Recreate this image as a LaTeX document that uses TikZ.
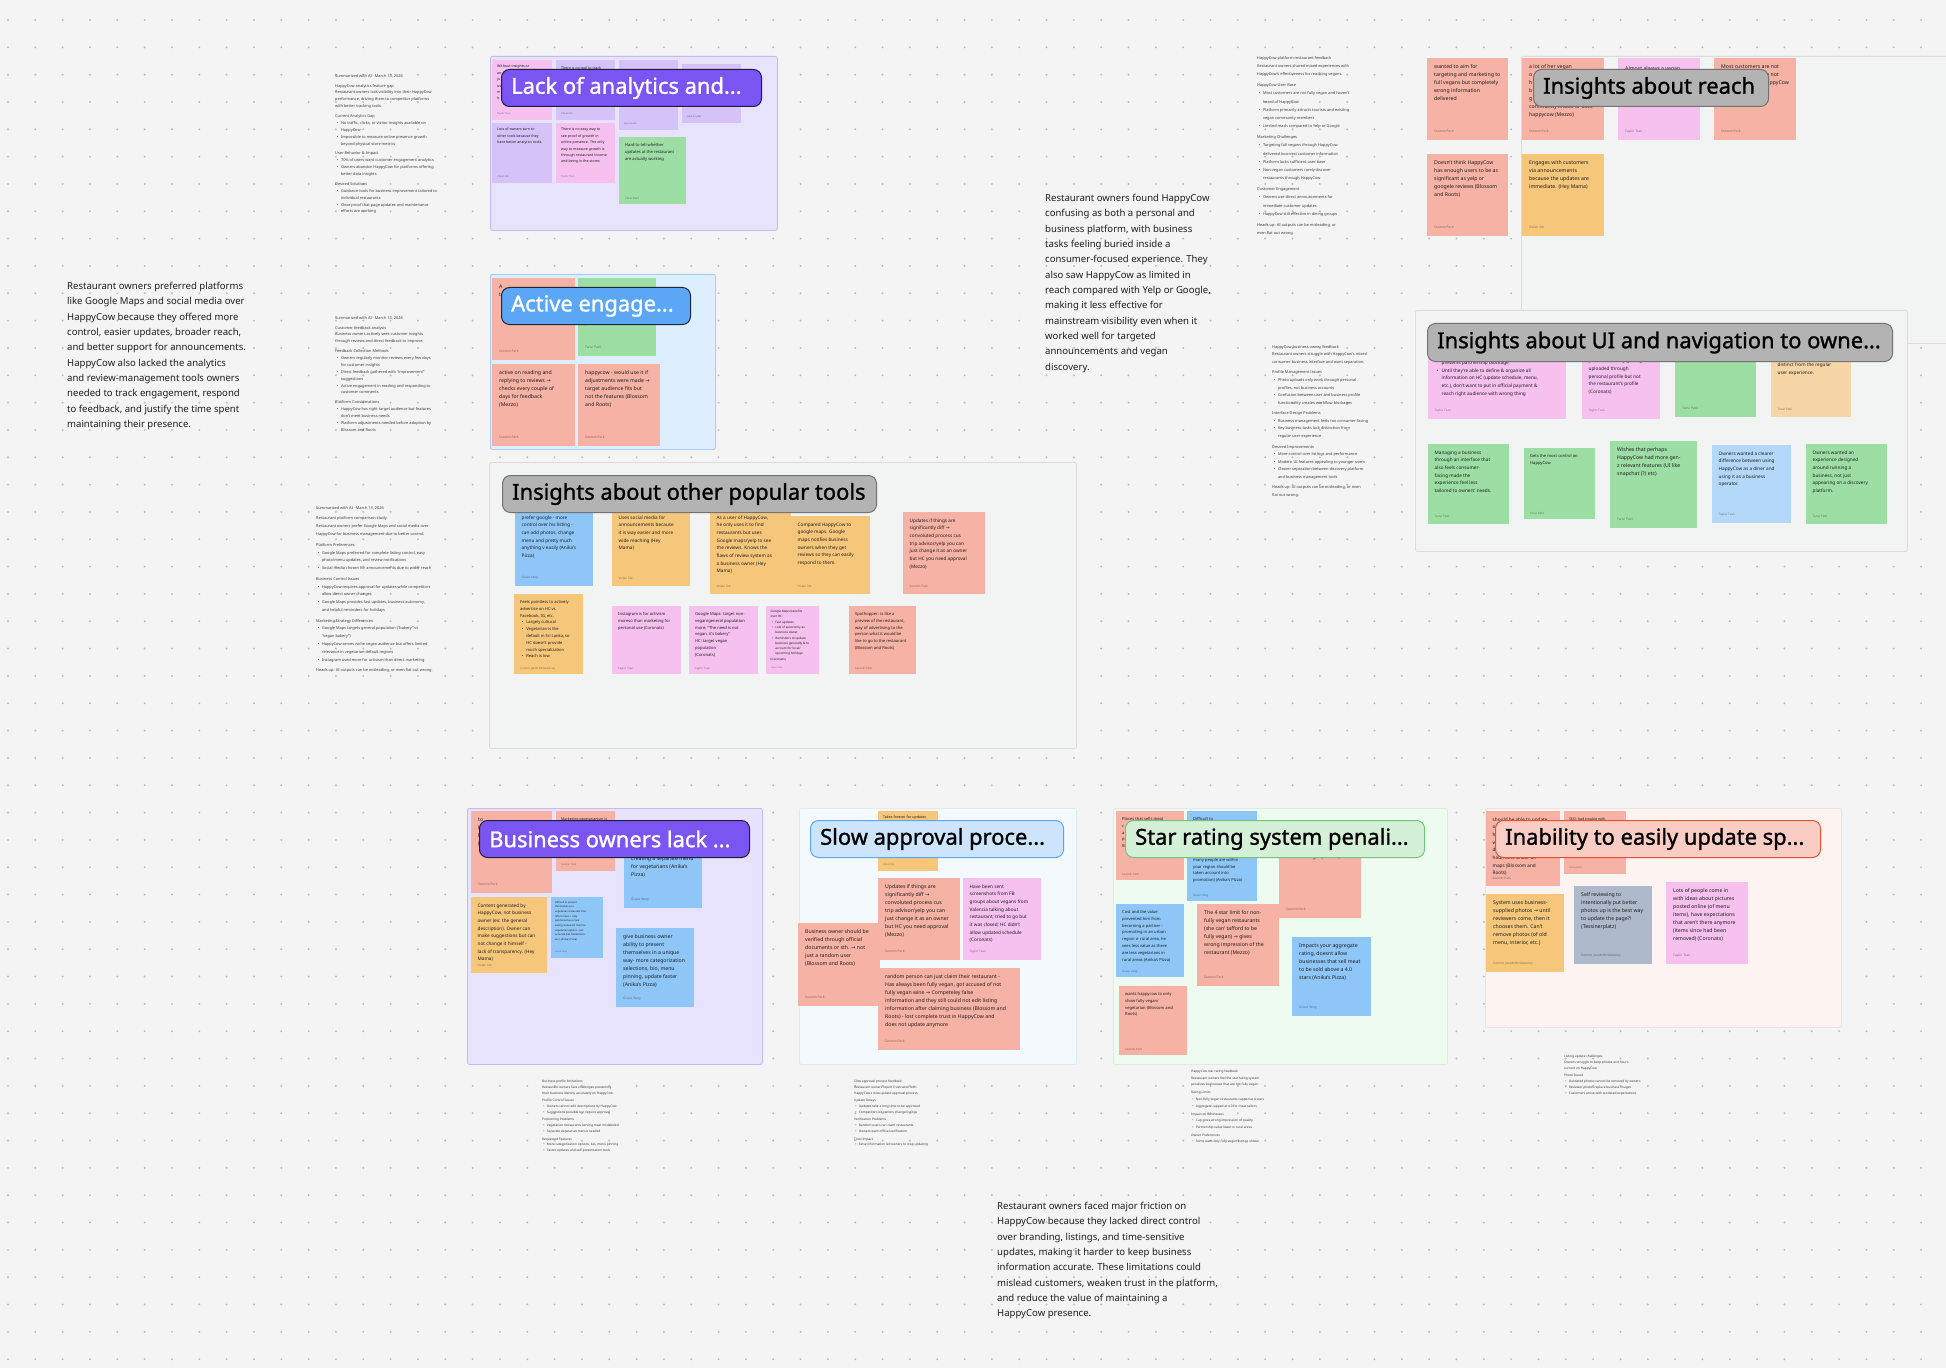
\documentclass[tikz,border=0pt]{standalone}
\usepackage{fontspec}
\setmainfont{Noto Sans}
\newfontfamily\symf{DejaVu Sans}
\newfontfamily\hdrf[FakeBold=1.2]{Noto Sans}

\definecolor{Canvas}  {HTML}{F4F4F4}
\definecolor{GridDot} {HTML}{BDBDBD}
\definecolor{Ink}     {HTML}{1E1E1E}
\definecolor{SumInk}  {HTML}{3C3C3C}
%% sticky colours
\definecolor{NtSal}{HTML}{F6B2A4}
\definecolor{NtPnk}{HTML}{F6C1EF}
\definecolor{NtPur}{HTML}{D4C2F8}
\definecolor{NtGrn}{HTML}{9DDEA5}
\definecolor{NtBlu}{HTML}{8EC6F8}
\definecolor{NtOra}{HTML}{F6C77B}
\definecolor{NtPch}{HTML}{F6D5A7}
\definecolor{NtLbl}{HTML}{B4D8FA}
\definecolor{NtSlt}{HTML}{AEB9CB}
%% section frames
\definecolor{FrPurF}{HTML}{E8E3FD}\definecolor{FrPurL}{HTML}{C7B9F4}
\definecolor{FrBluF}{HTML}{DDEEFE}\definecolor{FrBluL}{HTML}{A6CDF4}
\definecolor{FrGryF}{HTML}{F2F3F3}\definecolor{FrGryL}{HTML}{DCDCDC}
\definecolor{FrSkyF}{HTML}{F4F9FE}\definecolor{FrSkyL}{HTML}{E0EAF3}
\definecolor{FrMntF}{HTML}{EDFBF0}\definecolor{FrMntL}{HTML}{D9EEDD}
\definecolor{FrRosF}{HTML}{FDF4F2}\definecolor{FrRosL}{HTML}{F1E2DE}
%% section titles
\definecolor{LbPurF}{HTML}{7A55F2}\definecolor{LbPurL}{HTML}{1E1E3C}
\definecolor{LbBluF}{HTML}{5BA7F6}\definecolor{LbBluL}{HTML}{1E2A3C}
\definecolor{LbGryF}{HTML}{B3B3B3}\definecolor{LbGryL}{HTML}{737373}
\definecolor{LbSkyF}{HTML}{CDE5FC}\definecolor{LbSkyL}{HTML}{5AA7F5}
\definecolor{LbMntF}{HTML}{D4F0D6}\definecolor{LbMntL}{HTML}{74C47C}
\definecolor{LbRosF}{HTML}{F9CCC4}\definecolor{LbRosL}{HTML}{E5532E}

\tikzset{
  gdot/.style={fill=GridDot},
  frame/.style={rectangle, anchor=north west, inner sep=0pt,
    rounded corners=2bp, line width=0.8bp},
  fr_pur/.style={frame, fill=FrPurF, draw=FrPurL},
  fr_blu/.style={frame, fill=FrBluF, draw=FrBluL},
  fr_gry/.style={frame, fill=FrGryF, draw=FrGryL},
  fr_sky/.style={frame, fill=FrSkyF, draw=FrSkyL},
  fr_mnt/.style={frame, fill=FrMntF, draw=FrMntL},
  fr_ros/.style={frame, fill=FrRosF, draw=FrRosL},
  note/.style={rectangle, anchor=north west, inner sep=0pt},
  txbase/.style={anchor=north west, align=left, inner sep=0pt, text=Ink,
    execute at begin node=\strut},
  aubase/.style={anchor=west, inner sep=0pt, text=black, text opacity=0.42},
  txl/.style={txbase, font=\fontsize{5.2}{8}\selectfont, xshift=7bp, yshift=-6.8bp},
  txm/.style={txbase, font=\fontsize{4.7}{7.7}\selectfont, xshift=6.5bp, yshift=-6.4bp},
  txs/.style={txbase, font=\fontsize{4.1}{6.8}\selectfont, xshift=6bp, yshift=-6.3bp},
  txxs/.style={txbase, font=\fontsize{3.6}{6.4}\selectfont, xshift=5bp, yshift=-5bp},
  txt/.style={txbase, font=\fontsize{3.1}{5.3}\selectfont, xshift=4.5bp, yshift=-4.1bp},
  txu/.style={txbase, font=\fontsize{2.5}{4.7}\selectfont, xshift=4bp, yshift=-3.9bp},
  txlau/.style={aubase, font=\fontsize{3.3}{4}\selectfont, xshift=7bp, yshift=9bp},
  txmau/.style={aubase, font=\fontsize{3.1}{4}\selectfont, xshift=6.5bp, yshift=8.5bp},
  txsau/.style={aubase, font=\fontsize{2.9}{4}\selectfont, xshift=6bp, yshift=6bp},
  txxsau/.style={aubase, font=\fontsize{2.6}{3}\selectfont, xshift=5bp, yshift=7bp},
  txtau/.style={aubase, font=\fontsize{2.3}{3}\selectfont, xshift=4.5bp, yshift=6.5bp},
  txuau/.style={aubase, font=\fontsize{2.2}{3}\selectfont, xshift=4bp, yshift=6bp},
  hdr/.style={rectangle, anchor=north west, inner sep=0pt,
    rounded corners=8bp, line width=1bp},
  hdr_pur/.style={hdr, fill=LbPurF, draw=LbPurL},
  hdr_blu/.style={hdr, fill=LbBluF, draw=LbBluL},
  hdr_gry/.style={hdr, fill=LbGryF, draw=LbGryL},
  hdr_sky/.style={hdr, fill=LbSkyF, draw=LbSkyL},
  hdr_mnt/.style={hdr, fill=LbMntF, draw=LbMntL},
  hdr_ros/.style={hdr, fill=LbRosF, draw=LbRosL},
  hdrtxt/.style={anchor=west, inner sep=0pt, xshift=10bp,
    font=\hdrf\fontsize{22}{25}\selectfont},
  para/.style={anchor=north west, align=left, inner sep=0pt, text=Ink,
    font=\fontsize{9.6}{15.4}\selectfont, execute at begin node=\strut},
  aisum/.style={anchor=north west, align=left, inner sep=0pt, text=SumInk,
    font=\fontsize{3.9}{6.9}\selectfont},
  aisumsm/.style={aisum, font=\fontsize{3.2}{5.9}\selectfont},
}

\newcommand{\arw}{{\symf →}}
\newcommand{\bul}{\hspace*{0.4em}\makebox[1.1em][l]{\textbullet}}
\newcommand{\bulc}{\hspace*{1.5em}}
\newcommand{\sh}[1]{\textbf{#1}}
%% name, colour, x, y, w, h, text style, text, author
\newcommand{\sticky}[9]{%
  \node[note, fill=#2, minimum width=#5bp, minimum height=#6bp] (#1) at (#3,#4) {};
  \node[#7] (#1-t) at (#1.north west) {#8};
  \node[#7au] (#1-a) at (#1.south west) {#9};
}
%% name, style, x, y, w, h
\newcommand{\frm}[6]{%
  \node[#2, minimum width=#5bp, minimum height=#6bp] (#1) at (#3,#4) {};
}
%% name, style, x, y, w, h, colour, title
\newcommand{\hdrbox}[8]{%
  \node[#2, minimum width=#5bp, minimum height=#6bp] (#1) at (#3,#4) {};
  \node[hdrtxt, text=#7] (#1-t) at (#1.west) {#8};
}

\begin{document}
\begin{tikzpicture}[x=1bp,y=-1bp]

\useasboundingbox (0,0) rectangle (1946,1368);
\fill[Canvas] (0,0) rectangle (1946,1368);
\foreach \i in {0,...,71}{
  \foreach \j in {0,...,49}{\fill[gdot] ({8+27.33*\i},{20+27.33*\j}) circle (1.1);}}

%% frames
\frm{fA}{fr_pur}{490}{56}{287}{174}
\frm{fB}{fr_blu}{490}{274}{225}{175}
\frm{fC}{fr_gry}{489}{462}{587}{286}
\frm{fD}{fr_gry}{1521}{56}{440}{287}
\frm{fE}{fr_gry}{1415}{310}{492}{241}
\frm{fF}{fr_pur}{467}{808}{295}{256}
\frm{fG}{fr_sky}{799}{808}{277}{256}
\frm{fH}{fr_mnt}{1113}{808}{334}{256}
\frm{fI}{fr_ros}{1485}{808}{356}{219}

%% free text
\node[para] (pLeft) at (67,282) {Restaurant owners preferred platforms\\like Google Maps and social media over\\HappyCow because they offered more\\control, easier updates, broader reach,\\and better support for announcements.\\HappyCow also lacked the analytics\\and review-management tools owners\\needed to track engagement, respond\\to feedback, and justify the time spent\\maintaining their presence.};
\node[para] (pMid) at (1045,194) {Restaurant owners found HappyCow\\confusing as both a personal and\\business platform, with business\\tasks feeling buried inside a\\consumer-focused experience. They\\also saw HappyCow as limited in\\reach compared with Yelp or Google,\\making it less effective for\\mainstream visibility even when it\\worked well for targeted\\announcements and vegan\\discovery.};
\node[para] (pLow) at (997,1202) {Restaurant owners faced major friction on\\HappyCow because they lacked direct control\\over branding, listings, and time-sensitive\\updates, making it harder to keep business\\information accurate. These limitations could\\mislead customers, weaken trust in the platform,\\and reduce the value of maintaining a\\HappyCow presence.};

%% AI summaries
\node[aisum] (sA) at (335,74) {Summarized with AI · March 13, 2026\\[3bp]\sh{HappyCow analytics feature gap}\\Restaurant owners lack visibility into their HappyCow\\performance, driving them to competitor platforms\\with better tracking tools.\\[3bp]\sh{Current Analytics Gap}\\\bul No traffic, clicks, or visitor insights available on\\\bulc HappyCow\\\bul Impossible to measure online presence growth\\\bulc beyond physical store metrics\\[3bp]\sh{User Behavior \& Impact}\\\bul 70\% of users want customer engagement analytics\\\bul Owners abandon HappyCow for platforms offering\\\bulc better data insights\\[3bp]\sh{Desired Solutions}\\\bul Guidance tools for business improvement tailored to\\\bulc individual restaurants\\\bul Clear proof that page updates and maintenance\\\bulc efforts are working};
\node[aisum] (sB) at (335,316) {Summarized with AI · March 13, 2026\\[3bp]\sh{Customer feedback analysis}\\Business owners actively seek customer insights\\through reviews and direct feedback to improve.\\[3bp]\sh{Feedback Collection Methods}\\\bul Owners regularly monitor reviews every few days\\\bulc for customer insights\\\bul Direct feedback gathered with ``improvement''\\\bulc suggestions\\\bul Active engagement in reading and responding to\\\bulc customer comments\\[3bp]\sh{Platform Considerations}\\\bul HappyCow has right target audience but features\\\bulc don't meet business needs\\\bul Platform adjustments needed before adoption by\\\bulc Blossom and Roots};
\node[aisum, font=\fontsize{3.9}{7.8}\selectfont] (sC) at (316,506) {Summarized with AI · March 13, 2026\\[3bp]\sh{Restaurant platform comparison study}\\Restaurant owners prefer Google Maps and social media over\\HappyCow for business management due to better control.\\[3bp]\sh{Platform Preferences}\\\bul Google Maps preferred for complete listing control, easy\\\bulc photo/menu updates, and review notifications\\\bul Social media chosen for announcements due to wider reach\\[3bp]\sh{Business Control Issues}\\\bul HappyCow requires approval for updates while competitors\\\bulc allow direct owner changes\\\bul Google Maps provides fast updates, business autonomy,\\\bulc and helpful reminders for holidays\\[3bp]\sh{Marketing Strategy Differences}\\\bul Google Maps targets general population (``bakery'' vs\\\bulc ``vegan bakery'')\\\bul HappyCow serves niche vegan audience but offers limited\\\bulc relevance in vegetarian-default regions\\\bul Instagram used more for activism than direct marketing\\[3bp]Heads up: AI outputs can be misleading, or even flat out wrong.};
\node[aisum, font=\fontsize{3.9}{8.2}\selectfont] (sD) at (1257,56) {\sh{HappyCow platform restaurant feedback}\\Restaurant owners shared mixed experiences with\\HappyCow's effectiveness for reaching vegans.\\[3bp]\sh{HappyCow User Base}\\\bul Most customers are not fully vegan and haven't\\\bulc heard of HappyCow\\\bul Platform primarily attracts tourists and existing\\\bulc vegan community members\\\bul Limited reach compared to Yelp or Google\\[3bp]\sh{Marketing Challenges}\\\bul Targeting full vegans through HappyCow\\\bulc delivered incorrect customer information\\\bul Platform lacks sufficient user base\\\bul Non-vegan customers rarely discover\\\bulc restaurants through HappyCow\\[3bp]\sh{Customer Engagement}\\\bul Owners use direct announcements for\\\bulc immediate customer updates\\\bul HappyCow still effective in dining groups\\[3bp]Heads up: AI outputs can be misleading, or\\even flat out wrong.};
\node[aisum, font=\fontsize{3.9}{7.6}\selectfont] (sE) at (1272,345) {\sh{HappyCow business owner feedback}\\Restaurant owners struggle with HappyCow's mixed\\consumer-business interface and want separation.\\[3bp]\sh{Profile Management Issues}\\\bul Photo uploads only work through personal\\\bulc profiles, not business accounts\\\bul Confusion between user and business profile\\\bulc functionality creates workflow blockages\\[3bp]\sh{Interface Design Problems}\\\bul Business management feels too consumer-facing\\\bul Key business tasks lack distinction from\\\bulc regular user experience\\[3bp]\sh{Desired Improvements}\\\bul More control over listings and performance\\\bul Modern UI features appealing to younger users\\\bul Clearer separation between discovery platform\\\bulc and business management tools\\[3bp]Heads up: AI outputs can be misleading, or even\\flat out wrong.};
\node[aisumsm] (sF) at (542,1080) {\sh{Business profile limitations}\\Restaurant owners face challenges presenting\\their business identity accurately on HappyCow.\\[1.5bp]\sh{Profile Control Issues}\\\bul Owners cannot edit descriptions by HappyCow\\\bul Suggestions possible but require approval\\[1.5bp]\sh{Positioning Problems}\\\bul Vegetarian restaurants serving meat mislabeled\\\bul Separate vegetarian menus needed\\[1.5bp]\sh{Requested Features}\\\bul More categorization options, bio, menu pinning\\\bul Faster updates and self-presentation tools};
\node[aisumsm] (sG) at (854,1080) {\sh{Slow approval process feedback}\\Restaurant owners report frustration with\\HappyCow's slow update approval process.\\[1.5bp]\sh{Update Delays}\\\bul Updates take a long time to be approved\\\bul Competitors let owners change listings\\[1.5bp]\sh{Verification Problems}\\\bul Random users can claim restaurants\\\bul Owners want official verification\\[1.5bp]\sh{Trust Impact}\\\bul False information led owners to stop updating};
\node[aisumsm, font=\fontsize{3.2}{6.6}\selectfont] (sH) at (1191,1070) {\sh{HappyCow star rating feedback}\\Restaurant owners feel the star rating system\\penalizes businesses that are not fully vegan.\\[1.5bp]\sh{Rating Limits}\\\bul Non-fully vegan restaurants capped at 4 stars\\\bul Aggregate capped at 4.0 for meat sellers\\[1.5bp]\sh{Impact on Businesses}\\\bul Cap gives wrong impression of quality\\\bul Partnership value lower in rural areas\\[1.5bp]\sh{Owner Preferences}\\\bul Some want only fully vegan listings shown};
\node[aisumsm] (sI) at (1564,1055) {\sh{Listing update challenges}\\Owners struggle to keep photos and hours\\current on HappyCow.\\[1.5bp]\sh{Photo Issues}\\\bul Outdated photos cannot be removed by owners\\\bul Reviewer photos replace business images\\\bul Customers arrive with outdated expectations};

%% Lack of analytics
\sticky{nA1}{NtPnk}{492}{60}{60}{60}{txxs}{Without insights or\\an\\ju\\us\\m\\h}{Taylor Tsan}
\sticky{nA2}{NtPur}{556}{60}{59}{60}{txxs}{There is no tool to track}{Vivian Xie}
\sticky{nA3}{NtPur}{619}{60}{59}{70}{txxs}{}{Jess Susan}
\sticky{nA4}{NtPur}{682}{64}{59}{59}{txxs}{\mbox{}\\[32bp]audience.}{Julia Snyder}
\sticky{nA5}{NtPur}{492}{123}{60}{60}{txxs}{Lots of owners turn to\\other tools because they\\have better analytics tools.}{Vivian Xie}
\sticky{nA6}{NtPnk}{556}{123}{59}{60}{txxs}{There is no easy way to\\see proof of growth in\\online presence. The only\\way to measure growth is\\through restaurant income\\and being in the stores}{Taylor Tsan}
\sticky{nA7}{NtGrn}{619}{137}{67}{67}{txs}{Hard to tell whether\\updates at the restaurant\\are actually working}{Tanvi Patil}
\hdrbox{hA}{hdr_pur}{501}{69}{260}{37}{white}{Lack of analytics and...}

%% Active engagement
\sticky{nB1}{NtSal}{492}{278}{83}{82}{txl}{A\\t}{Seomin Park}
\sticky{nB2}{NtGrn}{578}{278}{78}{78}{txl}{\mbox{}\\[32bp]you do different?''}{Tanvi Patil}
\sticky{nB3}{NtSal}{492}{364}{83}{82}{txl}{active on reading and\\replying to reviews \arw\\checks every couple of\\days for feedback\\(Mezzo)}{Seomin Park}
\sticky{nB4}{NtSal}{578}{364}{82}{82}{txl}{happycow - would use it if\\adjustments were made \arw\\target audience fits but\\not the features (Blossom\\and Roots)}{Seomin Park}
\hdrbox{hB}{hdr_blu}{501}{287}{189}{37}{white}{Active engage...}

%% Other popular tools
\sticky{nC1}{NtBlu}{515}{509}{78}{77}{txm}{prefer google - more\\control over his listing -\\can add photos, change\\menu and pretty much\\anything v easily (Anika's\\Pizza)}{Grace Yang}
\sticky{nC2}{NtOra}{612}{509}{78}{77}{txm}{Uses social media for\\announcements because\\it is way easier and more\\wide reaching (Hey\\Mama)}{Vivian Xie}
\sticky{nC3}{NtOra}{710}{509}{81}{85}{txm}{As a user of HappyCow,\\he only uses it to find\\restaurants but uses\\Google maps/yelp to see\\the reviews. Knows the\\flaws of review system as\\a business owner (Hey\\Mama)}{Vivian Xie}
\sticky{nC4}{NtOra}{791}{516}{79}{78}{txm}{Compared HappyCow to\\google maps. Google\\maps notifies business\\owners when they get\\reviews so they can easily\\respond to them.}{Vivian Xie}
\sticky{nC5}{NtSal}{903}{512}{82}{82}{txm}{Updates if things are\\significantly diff \arw\\convoluted process cus\\trip advisor/yelp you can\\just change it as an owner\\but HC you need approval\\(Mezzo)}{Seomin Park}
\sticky{nC6}{NtOra}{514}{594}{69}{80}{txs}{Feels pointless to actively\\advertise on HC vs.\\Facebook, IG, etc.\\\bul Largely cultural\\\bul Vegetarian is the\\\bulc default in Sri Lanka, so\\\bulc HC doesn't provide\\\bulc much specialization\\\bul Reach is low}{Connor Jacob McSweeney}
\sticky{nC7}{NtPnk}{612}{606}{69}{68}{txs}{Instagram is for activism\\moreso than marketing for\\personal use (Coronats)}{Taylor Tsan}
\sticky{nC8}{NtPnk}{689}{606}{69}{68}{txs}{Google Maps: target non-\\vegan/general population\\more; ``The need is not\\vegan, it's bakery''\\HC: target vegan\\population\\(Coronats)}{Taylor Tsan}
\sticky{nC9}{NtPnk}{766}{606}{53}{68}{txt}{Google Maps benefits\\over HC:\\\bul Fast updates\\\bul Lots of autonomy as\\\bulc business owner\\\bul Reminders to update\\\bulc business generally \& to\\\bulc account for local/\\\bulc upcoming holidays\\(Coronats)}{Taylor Tsan}
\sticky{nC10}{NtSal}{849}{606}{67}{68}{txs}{Spothopper: is like a\\preview of the restaurant,\\way of advertising to the\\person what it would be\\like to go to the restaurant\\(Blossom and Roots)}{Seomin Park}
\hdrbox{hC}{hdr_gry}{502}{475}{374}{37}{black}{Insights about other popular tools}

%% Reach
\sticky{nD1}{NtSal}{1427}{58}{81}{82}{txl}{wanted to aim for\\targeting and marketing to\\full vegans but completely\\wrong information\\delivered}{Seomin Park}
\sticky{nD2}{NtSal}{1522}{58}{82}{82}{txl}{a lot of her vegan\\o\\h\\b\\g\\community knows or uses\\happycow (Mezzo)}{Seomin Park}
\sticky{nD3}{NtPnk}{1618}{58}{82}{82}{txl}{Almost always a vegan}{Taylor Tsan}
\sticky{nD4}{NtSal}{1714}{58}{82}{82}{txl}{Most customers are not\\vegan, so they have not\\heard of or used HappyCow\\(Anika's Pizza)}{Seomin Park}
\sticky{nD5}{NtSal}{1427}{154}{81}{82}{txl}{Doesn't think HappyCow\\has enough users to be as\\significant as yelp or\\googele reviews (Blossom\\and Roots)}{Seomin Park}
\sticky{nD6}{NtOra}{1522}{154}{82}{82}{txl}{Engages with customers\\via announcements\\because the updates are\\immediate. (Hey Mama)}{Vivian Xie}
\hdrbox{hD}{hdr_gry}{1533}{69}{235}{37}{black}{Insights about reach}

%% UI and navigation
\sticky{nE1}{NtPnk}{1428}{335}{138}{84}{txm}{\mbox{}\\\mbox{}\\\bul Frustrations over lack of business profile\\\bulc presents partnership blockage\\\bul Until they're able to define \& organize all\\\bulc information on HC (update schedule, menu,\\\bulc etc.), don't want to put in official payment \&\\\bulc reach right audience with wrong thing}{Taylor Tsan}
\sticky{nE2}{NtPnk}{1582}{341}{78}{78}{txm}{\mbox{}\\frustrated because\\pictures are only getting\\uploaded through\\personal profile but not\\the restaurant's profile\\(Coronats)}{Taylor Tsan}
\sticky{nE3}{NtGrn}{1675}{336}{81}{81}{txl}{}{Tanvi Patil}
\sticky{nE4}{NtPch}{1771}{337}{80}{80}{txm}{\mbox{}\\\mbox{}\\performance did not feel\\distinct from the regular\\user experience.}{Tanvi Patil}
\sticky{nE5}{NtGrn}{1428}{444}{81}{80}{txm}{Managing a business\\through an interface that\\also feels consumer-\\facing made the\\experience feel less\\tailored to owners' needs.}{Tanvi Patil}
\sticky{nE6}{NtGrn}{1524}{448}{71}{71}{txs}{Gets the most control on\\HappyCow}{Tanvi Patil}
\sticky{nE7}{NtGrn}{1610}{441}{87}{87}{txl}{Wishes that perhaps\\HappyCow had more gen-\\z relevant features (UI like\\snapchat (?) etc)}{Tanvi Patil}
\sticky{nE8}{NtLbl}{1712}{445}{79}{78}{txm}{Owners wanted a clearer\\difference between using\\HappyCow as a diner and\\using it as a business\\operator.}{Taylor Tsan}
\sticky{nE9}{NtGrn}{1806}{444}{81}{80}{txm}{Owners wanted an\\experience designed\\around running a\\business, not just\\appearing on a discovery\\platform.}{Tanvi Patil}
\hdrbox{hE}{hdr_gry}{1427}{323}{465}{38}{black}{Insights about UI and navigation to owne...}

%% Business owners lack
\sticky{nF1}{NtSal}{471}{811}{81}{82}{txl}{to\\H\\b\\(}{Seomin Park}
\sticky{nF2}{NtSal}{556}{811}{59}{60}{txxs}{Marketing vegetarianism is}{Seomin Park}
\sticky{nF3}{NtBlu}{624}{830}{78}{78}{txl}{\mbox{}\\\mbox{}\\(has been optional) \arw\\creating a separate menu\\for vegetarians (Anika's\\Pizza)}{Grace Yang}
\sticky{nF4}{NtOra}{471}{897}{76}{76}{txm}{Content generated by\\HappyCow, not business\\owner (ex: the general\\description). Owner can\\make suggestions but can\\not change it himself -\\lack of transparency. (Hey\\Mama)}{Vivian Xie}
\sticky{nF5}{NtBlu}{551}{897}{52}{61}{txu}{Difficult to present\\themselves as a\\vegetarian restaurant that\\offers meat -> only\\positioned as a meat\\eating restaurant that has\\vegetarian options - not\\accurate (like Modernista\\etc.) (Anika's Pizza)}{Grace Yang}
\sticky{nF6}{NtBlu}{616}{928}{78}{79}{txl}{give business owner\\ability to present\\themselves in a unique\\way- more categorization\\selections, bio, menu\\pinning, update faster\\(Anika's Pizza)}{Grace Yang}
\hdrbox{hF}{hdr_pur}{479}{820}{270}{37}{white}{Business owners lack ...}

%% Slow approval
\sticky{nG1}{NtOra}{878}{811}{60}{60}{txxs}{Takes forever for updates\\[32bp]etc.}{Vivian Xie}
\sticky{nG2}{NtSal}{878}{878}{82}{82}{txl}{Updates if things are\\significantly diff \arw\\convoluted process cus\\trip advisor/yelp you can\\just change it as an owner\\but HC you need approval\\(Mezzo)}{Seomin Park}
\sticky{nG3}{NtPnk}{963}{878}{78}{82}{txm}{Have been sent\\screenshots from FB\\groups about vegans from\\Valencia talking about\\restaurant; tried to go but\\it was closed; HC didn't\\allow updated schedule\\(Coronats)}{Taylor Tsan}
\sticky{nG4}{NtSal}{798}{923}{82}{83}{txl}{Business owner should be\\verified through official\\documents or sth. \arw\ not\\just a random user\\(Blossom and Roots)}{Seomin Park}
\sticky{nG5}{NtSal}{878}{968}{142}{82}{txl}{random person can just claim their restaurant -\\Has always been fully vegan, got accused of not\\fully vegan wine \arw\ Competeley false\\information and they still could not edit listing\\information after claiming business (Blossom and\\Roots) - lost complete trust in HappyCow and\\does not update anymore}{Seomin Park}
\hdrbox{hG}{hdr_sky}{810}{820}{253}{37}{black}{Slow approval proce...}

%% Star rating
\sticky{nH1}{NtSal}{1116}{811}{68}{69}{txs}{Places that sells meat\\c\\a\\p\\B}{Seomin Park}
\sticky{nH2}{NtBlu}{1187}{811}{70}{90}{txs}{Difficult to\\[34bp]many people are within\\your region should be\\taken account into\\promotion) (Anika's Pizza)}{Grace Yang}
\sticky{nH3}{NtSal}{1279}{836}{82}{82}{txl}{\mbox{}\\\mbox{}\\5 star ratings! (Mezzo)}{Seomin Park}
\sticky{nH4}{NtBlu}{1116}{904}{68}{73}{txs}{Cost and the value\\prevented him from\\becoming a partner -\\promoting in an urban\\region {\symf ≠} rural area, he\\sees less value as there\\are less vegetarians in\\rural areas (Anika's Pizza)}{Grace Yang}
\sticky{nH5}{NtSal}{1197}{904}{82}{82}{txl}{The \textbf{4 star limit} for non-\\fully vegan restaurants\\(she can' tafford to be\\fully vegan) \arw\ gives\\wrong impression of the\\restaurant (Mezzo)}{Seomin Park}
\sticky{nH6}{NtBlu}{1292}{937}{79}{79}{txl}{Impacts your aggregate\\rating, doesnt allow\\businesses that sell meat\\to be sold above a 4.0\\stars (Anika's Pizza)}{Grace Yang}
\sticky{nH7}{NtSal}{1119}{986}{68}{69}{txs}{wants happycow to only\\show fully vegan/\\vegetarian (Blossom and\\Roots)}{Seomin Park}
\hdrbox{hH}{hdr_mnt}{1125}{820}{299}{37}{black}{Star rating system penali...}

%% Inability to update
\sticky{nI1}{NtSal}{1486}{811}{74}{75}{txm}{should be able to update\\o\\h\\w\\d\\hour, time under on\\maps (Blossom and\\Roots)}{Seomin Park}
\sticky{nI2}{NtSal}{1564}{811}{62}{63}{txxs}{SEO: had trouble with}{Tanvi Patil}
\sticky{nI3}{NtOra}{1486}{894}{78}{78}{txl}{System uses business-\\supplied photos \arw\ until\\reviewers come, then it\\chooses them. Can't\\remove photos (of old\\menu, interior, etc.)}{Connor Jacob McSweeney}
\sticky{nI4}{NtSlt}{1574}{886}{78}{78}{txl}{Self reviewing to\\intentionally put better\\photos up is the best way\\to update the page?!\\(Tessinerplatz)}{Connor Jacob McSweeney}
\sticky{nI5}{NtPnk}{1666}{882}{82}{82}{txl}{Lots of people come in\\with ideas about pictures\\posted online (of menu\\items), have expectations\\that aren't there anymore\\(items since had been\\removed) (Coronats)}{Taylor Tsan}
\hdrbox{hI}{hdr_ros}{1495}{820}{325}{37}{black}{Inability to easily update sp...}

\end{tikzpicture}
\end{document}
